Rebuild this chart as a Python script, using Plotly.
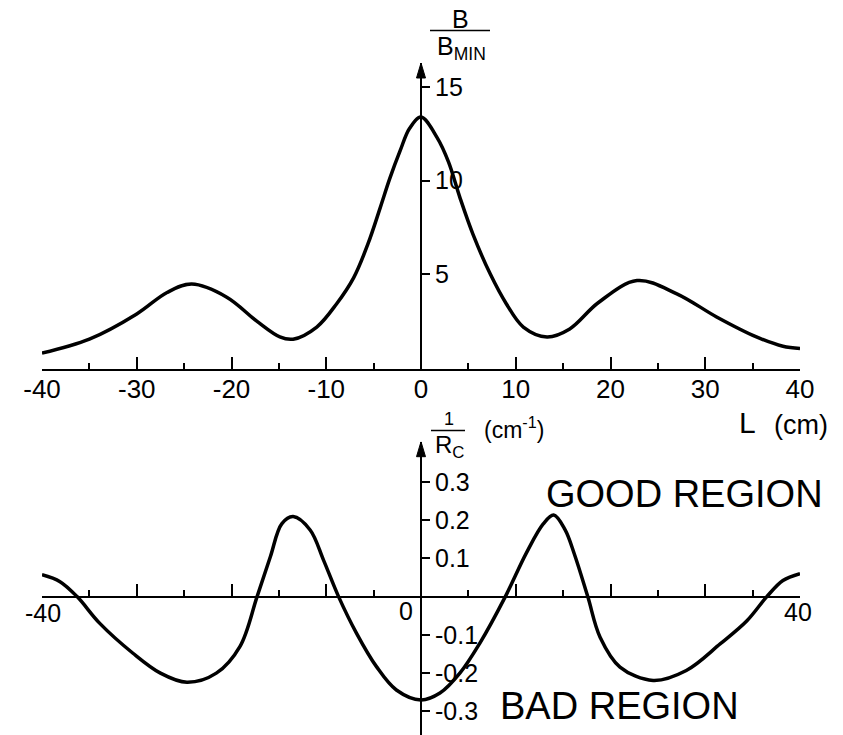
import plotly.graph_objects as go

# --- data -------------------------------------------------------------
# Field profile B/Bmin along the axis L (cm)
L_field = [-40, -35, -30, -26.8, -24.2, -20.5, -17.3, -14.9, -13.5, -11.0,
           -8.9, -7.1, -5.6, -4.3, -3.3, -2.2, -1.2, 0, 1.7, 2.9, 4.1, 5.5,
           7.3, 9.0, 10.8, 13.3, 15.7, 18.7, 22.8, 27.0, 31.2, 35.4, 38.2, 40]
B_ratio = [0.75, 1.5, 2.85, 4.0, 4.45, 3.75, 2.45, 1.62, 1.5, 2.15,
           3.4, 4.8, 6.6, 8.55, 10.1, 11.6, 12.8, 13.4, 12.3, 11.0, 9.1, 7.1,
           5.0, 3.4, 2.15, 1.62, 2.05, 3.45, 4.64, 3.93, 2.69, 1.62, 1.12, 1.0]

# Field-line curvature 1/Rc (cm^-1) along L
L_curv = [-40, -38.1, -36.3, -33.9, -30.4, -27.5, -24.7, -21.6, -19.1, -17.3,
          -15.9, -14.7, -13.5, -11.7, -10.3, -8.7, -6.8, -4.7, -2.6, 0, 2.0,
          4.1, 6.2, 8.9, 11.1, 12.9, 14.0, 15.2, 16.2, 17.6, 18.9, 21.0, 24.5,
          28.0, 31.6, 34.4, 36.5, 38.2, 40]
inv_Rc = [0.057, 0.039, 0.0, -0.07, -0.148, -0.2, -0.224, -0.2, -0.13, 0.0,
          0.104, 0.19, 0.209, 0.174, 0.096, 0.0, -0.096, -0.183, -0.244, -0.27,
          -0.252, -0.2, -0.122, 0.0, 0.113, 0.19, 0.213, 0.175, 0.11, 0.0,
          -0.106, -0.184, -0.219, -0.193, -0.123, -0.063, 0.0, 0.042, 0.06]

# Tick positions and labels
major_xticks = [-40, -30, -20, -10, 0, 10, 20, 30, 40]
top_xlabels = ["-40", "-30", "-20", "-10", "0", "10", "20", "30", "40"]
minor_xticks = [-35, -25, -15, -5, 5, 15, 25, 35]
top_yticks = [5, 10, 15]
top_ylabels = ["5", "10", "15"]
bot_yticks = [-0.3, -0.2, -0.1, 0.1, 0.2, 0.3]
bot_ylabels = ["-0.3", "-0.2", "-0.1", "0.1", "0.2", "0.3"]

# --- layout geometry --------------------------------------------------
W, H = 843, 735
ML, MR = 42, 43
FONT = "Liberation Sans, Arial, DejaVu Sans, sans-serif"


def px_x(x):
    return (x - ML) / (W - ML - MR)


def px_y(y):
    return 1 - y / H


top_dom = [px_y(369), px_y(63)]
top_range = [-0.1, 16.3]
bot_dom = [0, px_y(441.7)]
bot_range = [-0.3616, 0.4047]
bot_zero = bot_dom[0] + (0 - bot_range[0]) / (bot_range[1] - bot_range[0]) * (bot_dom[1] - bot_dom[0])

line_style = dict(color="black", width=3.5, shape="spline", smoothing=1.0)

fig = go.Figure()
fig.add_trace(go.Scatter(x=L_field, y=B_ratio, mode="lines", line=line_style,
                         xaxis="x", yaxis="y", hoverinfo="skip"))
fig.add_trace(go.Scatter(x=L_curv, y=inv_Rc, mode="lines", line=line_style,
                         xaxis="x2", yaxis="y2", hoverinfo="skip"))

tick_font = dict(family=FONT, size=26, color="black")

common_x = dict(range=[-40, 40], domain=[0, 1], showline=True, linecolor="black",
                linewidth=2, showgrid=False, zeroline=False, ticks="inside",
                ticklen=12, tickwidth=1.5, tickcolor="black", tickmode="array",
                tickvals=major_xticks, tickfont=tick_font, fixedrange=True,
                ticklabelstandoff=-4,
                minor=dict(tickmode="array", tickvals=minor_xticks, ticks="inside",
                           ticklen=6, tickwidth=1.5, tickcolor="black", showgrid=False))

common_y = dict(anchor="free", position=0.5, side="right", showline=True,
                linecolor="black", linewidth=2, showgrid=False, zeroline=False,
                ticks="outside", ticklen=8, tickwidth=1.5, tickcolor="black",
                tickmode="array", tickfont=dict(family=FONT, size=25, color="black"),
                fixedrange=True)

fig.update_layout(
    width=W, height=H,
    margin=dict(l=ML, r=MR, t=0, b=0),
    paper_bgcolor="white", plot_bgcolor="white",
    showlegend=False,
    xaxis=dict(common_x, anchor="y", ticktext=top_xlabels),
    yaxis=dict(common_y, domain=top_dom, range=top_range,
               tickvals=top_yticks, ticktext=top_ylabels),
    xaxis2=dict(common_x, anchor="free", position=bot_zero, showticklabels=False),
    yaxis2=dict(common_y, domain=bot_dom, range=bot_range,
                tickvals=bot_yticks, ticktext=bot_ylabels),
)

# arrowheads at the top of the two vertical axes
for xr, yr, ytop in (("x", "y", top_range[1]), ("x2", "y2", bot_range[1])):
    fig.add_shape(type="path", xref=xr, yref=yr,
                  xsizemode="pixel", ysizemode="pixel", xanchor=0, yanchor=ytop,
                  path="M -4.5,-15 L 0,0 L 4.5,-15 Z",
                  fillcolor="black", line=dict(color="black", width=1))


def label(text, x, y, size, xanchor="center", yanchor="middle"):
    fig.add_annotation(text=text, x=px_x(x), y=px_y(y), xref="paper", yref="paper",
                       xanchor=xanchor, yanchor=yanchor, showarrow=False,
                       font=dict(family=FONT, size=size, color="black"))


def rule(x0, x1, y):
    fig.add_shape(type="line", xref="paper", yref="paper",
                  x0=px_x(x0), x1=px_x(x1), y0=px_y(y), y1=px_y(y),
                  line=dict(color="black", width=1.5))


# axis titles
label("B", 460, 19, 25)
rule(430, 490, 30.5)
label("B<sub>MIN</sub>", 461, 48, 25)

label("1", 449, 419, 18)
rule(431, 465, 430.5)
label("R<sub>C</sub>", 449, 446, 24)
label("(cm<sup>-1</sup>)", 514, 428, 23)

label("L", 747, 422, 30)
label("(cm)", 801, 425, 27)

# lower panel axis numbers
label("-40", 43, 613, 25)
label("0", 406, 611, 25)
label("40", 798, 612, 25)

label("GOOD REGION", 684, 494, 38)
label("BAD REGION", 619, 706, 38)

fig.write_html("out.html")
